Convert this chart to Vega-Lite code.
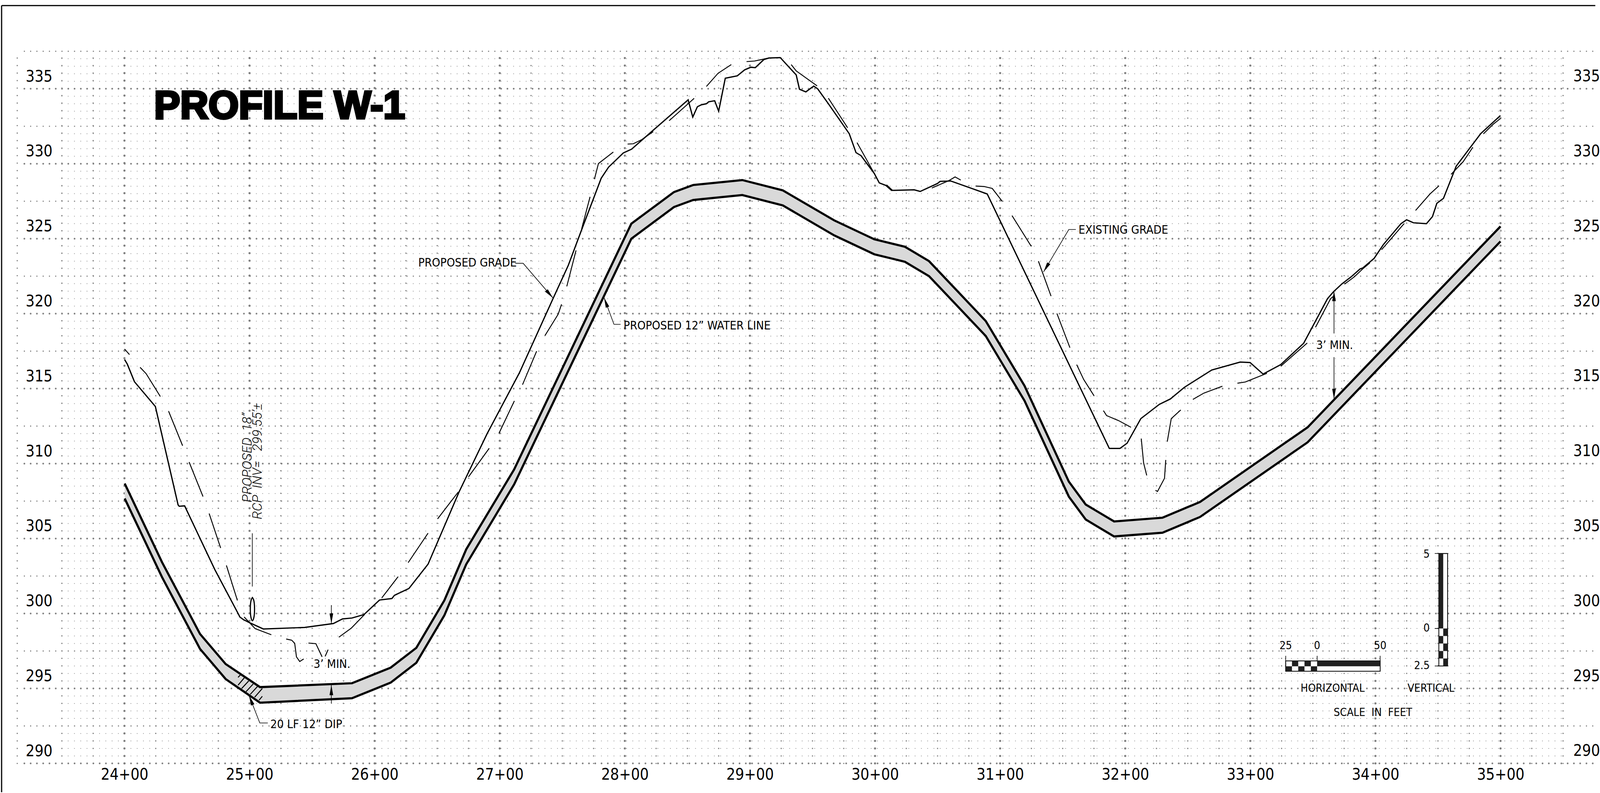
{
"$schema":"https://vega.github.io/schema/vega-lite/v6.json",
"width":4096,"height":2029,"padding":0,"autosize":{"type":"fit","contains":"padding"},"background":"white",
"config":{"view":{"stroke":null},"axis":{"grid":false,"ticks":false,"domain":false,"labelColor":"black","labelFont":"DejaVu Sans Condensed, Roboto, sans-serif","labelFontSize":40,"labelOverlap":false,"labelFlush":false,"labelBound":false}},
"datasets":{
"rowsAll":[{"e":290},{"e":290.5},{"e":291},{"e":291.5},{"e":292},{"e":292.5},{"e":293},{"e":293.5},{"e":294},{"e":294.5},{"e":295},{"e":295.5},{"e":296},{"e":296.5},{"e":297},{"e":297.5},{"e":298},{"e":298.5},{"e":299},{"e":299.5},{"e":300},{"e":300.5},{"e":301},{"e":301.5},{"e":302},{"e":302.5},{"e":303},{"e":303.5},{"e":304},{"e":304.5},{"e":305},{"e":305.5},{"e":306},{"e":306.5},{"e":307},{"e":307.5},{"e":308},{"e":308.5},{"e":309},{"e":309.5},{"e":310},{"e":310.5},{"e":311},{"e":311.5},{"e":312},{"e":312.5},{"e":313},{"e":313.5},{"e":314},{"e":314.5},{"e":315},{"e":315.5},{"e":316},{"e":316.5},{"e":317},{"e":317.5},{"e":318},{"e":318.5},{"e":319},{"e":319.5},{"e":320},{"e":320.5},{"e":321},{"e":321.5},{"e":322},{"e":322.5},{"e":323},{"e":323.5},{"e":324},{"e":324.5},{"e":325},{"e":325.5},{"e":326},{"e":326.5},{"e":327},{"e":327.5},{"e":328},{"e":328.5},{"e":329},{"e":329.5},{"e":330},{"e":330.5},{"e":331},{"e":331.5},{"e":332},{"e":332.5},{"e":333},{"e":333.5},{"e":334},{"e":334.5},{"e":335},{"e":335.5},{"e":336},{"e":336.5},{"e":337},{"e":337.5}],
"rowsMed":[{"e":292.5},{"e":297.5},{"e":302.5},{"e":307.5},{"e":312.5},{"e":317.5},{"e":322.5},{"e":327.5},{"e":332.5},{"e":337.5}],
"rowsHeavy":[{"e":290},{"e":295},{"e":300},{"e":305},{"e":310},{"e":315},{"e":320},{"e":325},{"e":330},{"e":335}],
"colsMed":[{"s":2314.3},{"s":2350},{"s":2375},{"s":2400},{"s":2425},{"s":2450},{"s":2475},{"s":2500},{"s":2525},{"s":2550},{"s":2575},{"s":2600},{"s":2625},{"s":2650},{"s":2675},{"s":2700},{"s":2725},{"s":2750},{"s":2775},{"s":2800},{"s":2825},{"s":2850},{"s":2875},{"s":2900},{"s":2925},{"s":2950},{"s":2975},{"s":3000},{"s":3025},{"s":3050},{"s":3075},{"s":3100},{"s":3125},{"s":3150},{"s":3175},{"s":3200},{"s":3225},{"s":3250},{"s":3275},{"s":3300},{"s":3325},{"s":3350},{"s":3375},{"s":3400},{"s":3425},{"s":3450},{"s":3475},{"s":3500},{"s":3525},{"s":3550}],
"colsHeavy":[{"s":2400},{"s":2500},{"s":2600},{"s":2700},{"s":2800},{"s":2900},{"s":3000},{"s":3100},{"s":3200},{"s":3300},{"s":3400},{"s":3500}],
"pipe":[{"s":2400.2,"top":308.67,"bot":307.67},{"s":2430,"top":303.43,"bot":302.43},{"s":2460.4,"top":298.64,"bot":297.64},{"s":2480.9,"top":296.63,"bot":295.63},{"s":2508.4,"top":295.09,"bot":294.05},{"s":2581.9,"top":295.35,"bot":294.35},{"s":2612.8,"top":296.39,"bot":295.39},{"s":2633.3,"top":297.71,"bot":296.71},{"s":2655.7,"top":300.87,"bot":299.87},{"s":2673.2,"top":304.28,"bot":303.28},{"s":2711.5,"top":309.61,"bot":308.61},{"s":2805.2,"top":326.0,"bot":325.0},{"s":2839.3,"top":328.11,"bot":327.11},{"s":2854.6,"top":328.58,"bot":327.58},{"s":2893.9,"top":328.91,"bot":327.91},{"s":2926.3,"top":328.22,"bot":327.22},{"s":2967.4,"top":326.22,"bot":325.22},{"s":2999.4,"top":324.96,"bot":323.96},{"s":3023.9,"top":324.46,"bot":323.46},{"s":3043.2,"top":323.5,"bot":322.5},{"s":3088.5,"top":319.51,"bot":318.51},{"s":3119.5,"top":315.19,"bot":314.19},{"s":3154.9,"top":308.8,"bot":307.8},{"s":3168.4,"top":307.27,"bot":306.27},{"s":3191.1,"top":306.14,"bot":305.14},{"s":3229.8,"top":306.39,"bot":305.39},{"s":3259.8,"top":307.44,"bot":306.44},{"s":3345.8,"top":312.42,"bot":311.42},{"s":3500,"top":325.82,"bot":324.82}],
"grade":[{"s":2400.1,"e":316.94},{"s":2402.3,"e":316.63},{"s":2408,"e":315.46},{"s":2424.7,"e":313.81},{"s":2442.9,"e":307.24},{"s":2443.8,"e":307.15},{"s":2448.1,"e":307.18},{"s":2472.3,"e":302.92},{"s":2491.5,"e":299.9},{"s":2492.2,"e":299.77},{"s":2495,"e":299.6},{"s":2500.2,"e":299.38},{"s":2511,"e":298.97},{"s":2544.1,"e":299.07},{"s":2567,"e":299.33},{"s":2574.3,"e":299.64},{"s":2581.9,"e":299.7},{"s":2591.5,"e":299.93},{"s":2603.9,"e":300.9},{"s":2613.8,"e":301.0},{"s":2615.8,"e":301.21},{"s":2627.4,"e":301.67},{"s":2642.7,"e":303.29},{"s":2667.6,"e":308.13},{"s":2689.9,"e":311.99},{"s":2715.7,"e":316.05},{"s":2742.8,"e":321.04},{"s":2754.7,"e":323.2},{"s":2765.5,"e":325.6},{"s":2781.1,"e":329.03},{"s":2787,"e":329.77},{"s":2798.8,"e":330.72},{"s":2805.4,"e":330.97},{"s":2821.4,"e":332.14},{"s":2850.6,"e":334.26},{"s":2854.3,"e":333.11},{"s":2858,"e":333.8},{"s":2861.2,"e":333.93},{"s":2865.2,"e":334.0},{"s":2867,"e":334.13},{"s":2871.8,"e":334.2},{"s":2875,"e":333.5},{"s":2880.3,"e":335.7},{"s":2889.9,"e":335.86},{"s":2895.8,"e":336.26},{"s":2900.5,"e":336.43},{"s":2904.3,"e":336.41},{"s":2911.2,"e":336.95},{"s":2915.2,"e":337.05},{"s":2924.2,"e":337.08},{"s":2937,"e":335.92},{"s":2939.6,"e":334.97},{"s":2944.7,"e":334.79},{"s":2951,"e":335.18},{"s":2954.2,"e":334.99},{"s":2962.2,"e":334.06},{"s":2979.4,"e":332.0},{"s":2984.8,"e":330.74},{"s":2988.8,"e":330.54},{"s":2999.4,"e":329.35},{"s":3003.4,"e":328.72},{"s":3008.7,"e":328.55},{"s":3013.2,"e":328.22},{"s":3031.3,"e":328.26},{"s":3036.1,"e":328.15},{"s":3049.9,"e":328.68},{"s":3052,"e":328.82},{"s":3060.5,"e":328.85},{"s":3081.8,"e":328.22},{"s":3089.7,"e":327.98},{"s":3187.3,"e":311.01},{"s":3195.8,"e":311.01},{"s":3201.5,"e":311.36},{"s":3212.5,"e":313.0},{"s":3227.3,"e":313.95},{"s":3236.1,"e":314.31},{"s":3247.2,"e":315.08},{"s":3269.2,"e":316.24},{"s":3291.9,"e":316.77},{"s":3299.8,"e":316.74},{"s":3310.2,"e":315.97},{"s":3324.3,"e":316.6},{"s":3342.6,"e":318.02},{"s":3361.7,"e":321.0},{"s":3366.6,"e":321.47},{"s":3373.3,"e":321.99},{"s":3380.7,"e":322.46},{"s":3387.7,"e":322.98},{"s":3389.8,"e":323.04},{"s":3398.9,"e":323.68},{"s":3406.4,"e":324.61},{"s":3420.4,"e":326.0},{"s":3424.9,"e":326.26},{"s":3430.4,"e":326.06},{"s":3440.8,"e":326.0},{"s":3445.6,"e":326.47},{"s":3449.1,"e":327.36},{"s":3454.4,"e":327.69},{"s":3464.6,"e":329.84},{"s":3484.2,"e":332.01},{"s":3499.9,"e":333.21}],
"existing":[
{"g":"A","s":2400.1,"e":317.64},{"g":"A","s":2404,"e":317.27},
{"g":"B","s":2412.5,"e":316.42},{"g":"B","s":2417.3,"e":316.0},{"g":"B","s":2428.7,"e":314.47},
{"g":"C","s":2435.3,"e":313.49},{"g":"C","s":2446.5,"e":311.19},
{"g":"D","s":2451.7,"e":310.1},{"g":"D","s":2462.8,"e":307.8},
{"g":"E","s":2467.7,"e":306.67},{"g":"E","s":2476.9,"e":304.37},
{"g":"F","s":2481.5,"e":303.21},{"g":"F","s":2490.3,"e":300.87},
{"g":"G","s":2495.7,"e":299.77},{"g":"G","s":2504.5,"e":298.99},{"g":"G","s":2517.4,"e":298.58},
{"g":"H","s":2529.3,"e":298.3},{"g":"H","s":2533.7,"e":298.22},{"g":"H","s":2536.1,"e":298.01},{"g":"H","s":2537.5,"e":297.11},{"g":"H","s":2540.1,"e":296.8},{"g":"H","s":2543.3,"e":296.97},
{"g":"I","s":2547.1,"e":298.03},{"g":"I","s":2553,"e":297.99},{"g":"I","s":2558,"e":297.11},
{"g":"J","s":2560.4,"e":297.14},{"g":"J","s":2562.8,"e":297.59},
{"g":"K","s":2571.4,"e":298.42},{"g":"K","s":2581.3,"e":299.02},{"g":"K","s":2591.9,"e":299.93},
{"g":"L","s":2605.7,"e":301.04},{"g":"L","s":2618.8,"e":302.46},
{"g":"M","s":2626.8,"e":303.39},{"g":"M","s":2642.7,"e":305.36},
{"g":"N","s":2650.3,"e":306.31},{"g":"N","s":2666.9,"e":308.11},
{"g":"O","s":2675,"e":309.11},{"g":"O","s":2691.6,"e":311.02},
{"g":"P","s":2699.4,"e":312.02},{"g":"P","s":2711.7,"e":314.18},
{"g":"Q","s":2718.2,"e":315.26},{"g":"Q","s":2729.5,"e":317.5},
{"g":"R","s":2736.1,"e":318.53},{"g":"R","s":2746.7,"e":319.96},{"g":"R","s":2749.4,"e":320.62},
{"g":"S","s":2753.6,"e":321.82},{"g":"S","s":2761,"e":324.22},
{"g":"T","s":2765.5,"e":325.66},{"g":"T","s":2772.2,"e":327.79},
{"g":"U","s":2775.7,"e":328.97},{"g":"U","s":2778.9,"e":330.01},{"g":"U","s":2790.8,"e":330.78},
{"g":"V","s":2802.2,"e":331.31},{"g":"V","s":2806.7,"e":331.33},{"g":"V","s":2813.4,"e":331.6},{"g":"V","s":2822.7,"e":332.14},
{"g":"W","s":2835.4,"e":332.87},{"g":"W","s":2842.6,"e":333.4},{"g":"W","s":2855.4,"e":334.36},
{"g":"X","s":2865.2,"e":335.15},{"g":"X","s":2874.5,"e":336.03},{"g":"X","s":2885.1,"e":336.61},
{"g":"Y","s":2897.3,"e":336.81},{"g":"Y","s":2903.7,"e":336.85},{"g":"Y","s":2911.7,"e":336.99},{"g":"Y","s":2915.2,"e":337.05},
{"g":"Z","s":2933,"e":336.61},{"g":"Z","s":2937,"e":336.19},{"g":"Z","s":2953.7,"e":335.19},
{"g":"AA","s":2962.7,"e":334.37},{"g":"AA","s":2978.1,"e":332.4},
{"g":"AB","s":2985.6,"e":331.41},{"g":"AB","s":2999.9,"e":329.28},
{"g":"AC","s":3009.2,"e":328.59},{"g":"AC","s":3014,"e":328.22},
{"g":"AD","s":3045.4,"e":328.38},{"g":"AD","s":3059.2,"e":328.88},{"g":"AD","s":3064,"e":329.12},{"g":"AD","s":3068.5,"e":328.91},
{"g":"AE","s":3080.4,"e":328.51},{"g":"AE","s":3087.1,"e":328.48},{"g":"AE","s":3093.7,"e":328.35},{"g":"AE","s":3101.7,"e":327.49},
{"g":"AG","s":3109.5,"e":326.54},{"g":"AG","s":3124.9,"e":324.49},
{"g":"AH","s":3130.6,"e":323.5},{"g":"AH","s":3140.7,"e":321.17},
{"g":"AI","s":3145.4,"e":320.01},{"g":"AI","s":3155.8,"e":317.73},
{"g":"AJ","s":3161.2,"e":316.6},{"g":"AJ","s":3166.8,"e":315.61},{"g":"AJ","s":3175,"e":314.53},
{"g":"AK","s":3182.6,"e":313.53},{"g":"AK","s":3185.1,"e":313.2},{"g":"AK","s":3194.6,"e":312.87},{"g":"AK","s":3204.6,"e":312.42},
{"g":"AL","s":3212.8,"e":311.67},{"g":"AL","s":3214.7,"e":310.04},{"g":"AL","s":3217.2,"e":309.21},
{"g":"AM","s":3224.2,"e":308.22},{"g":"AM","s":3225.8,"e":308.14},{"g":"AM","s":3231.4,"e":309.02},{"g":"AM","s":3232.4,"e":310.24},
{"g":"AN","s":3233.6,"e":311.46},{"g":"AN","s":3236.8,"e":313.0},{"g":"AN","s":3244.4,"e":313.58},
{"g":"AO","s":3254.1,"e":314.28},{"g":"AO","s":3262.9,"e":314.7},{"g":"AO","s":3277.7,"e":315.16},
{"g":"AP","s":3289.7,"e":315.36},{"g":"AP","s":3296,"e":315.44},{"g":"AP","s":3313.3,"e":316.02},
{"g":"AQ","s":3324.3,"e":316.49},{"g":"AQ","s":3345.5,"e":318.04},
{"g":"AR","s":3352.1,"e":319.09},{"g":"AR","s":3364.2,"e":321.0},{"g":"AR","s":3366.8,"e":321.18},
{"g":"AS","s":3375.3,"e":321.97},{"g":"AS","s":3383.2,"e":322.46},{"g":"AS","s":3389.8,"e":322.98},{"g":"AS","s":3395.6,"e":323.39},
{"g":"AT","s":3404.9,"e":324.26},{"g":"AT","s":3422.9,"e":326.0},
{"g":"AU","s":3432.1,"e":326.88},{"g":"AU","s":3443.6,"e":327.98},{"g":"AU","s":3450.8,"e":328.53},
{"g":"AV","s":3460.5,"e":329.29},{"g":"AV","s":3470.1,"e":330.13},{"g":"AV","s":3477.9,"e":331.1},
{"g":"AW","s":3486.3,"e":331.99},{"g":"AW","s":3494.1,"e":332.63},{"g":"AW","s":3499.9,"e":333.01}
],
"thin":[
{"g":"pg","s":2712.4,"e":323.36},{"g":"pg","s":2718.7,"e":323.36},{"g":"pg","s":2742.6,"e":321.04},
{"g":"wl","s":2796.6,"e":319.29},{"g":"wl","s":2791.3,"e":319.29},{"g":"wl","s":2783.4,"e":321.07},
{"g":"eg","s":3160.5,"e":325.61},{"g":"eg","s":3154.9,"e":325.61},{"g":"eg","s":3134.7,"e":322.78},
{"g":"dip","s":2514.6,"e":292.7},{"g":"dip","s":2508.2,"e":292.7},{"g":"dip","s":2499.6,"e":294.54},
{"g":"u1","s":2565.4,"e":300.56},{"g":"u1","s":2565.4,"e":299.33},
{"g":"u2","s":2565.4,"e":294.0},{"g":"u2","s":2565.4,"e":295.23},
{"g":"r1","s":3366.9,"e":318.68},{"g":"r1","s":3366.9,"e":321.51},
{"g":"r2","s":3366.9,"e":317.1},{"g":"r2","s":3366.9,"e":314.31},
{"g":"rcp","s":2502.2,"e":305.35},{"g":"rcp","s":2502.2,"e":301.8},
{"g":"t1","s":3328.3,"e":296.15},{"g":"t1","s":3328.3,"e":297.18},
{"g":"t2","s":3353.4,"e":296.15},{"g":"t2","s":3353.4,"e":297.18},
{"g":"t3","s":3403.8,"e":296.15},{"g":"t3","s":3403.8,"e":297.18},
{"g":"v1","s":3447.4,"e":304},{"g":"v1","s":3457.7,"e":304},
{"g":"v2","s":3447.4,"e":299},{"g":"v2","s":3457.7,"e":299},
{"g":"v3","s":3447.4,"e":296.5},{"g":"v3","s":3457.7,"e":296.5}
],
"hatch":[
{"g":"1","s":2490.8,"e":295.74},{"g":"1","s":2492.8,"e":295.91},
{"g":"2","s":2490.8,"e":295.22},{"g":"2","s":2495.8,"e":295.71},
{"g":"3","s":2493.7,"e":295.0},{"g":"3","s":2499.3,"e":295.5},
{"g":"4","s":2497.1,"e":294.78},{"g":"4","s":2502.9,"e":295.3},
{"g":"5","s":2500.6,"e":294.61},{"g":"5","s":2506.3,"e":295.13},
{"g":"6","s":2504.1,"e":294.42},{"g":"6","s":2510.2,"e":295.0},
{"g":"7","s":2507.6,"e":294.22},{"g":"7","s":2510.2,"e":294.48}
],
"oval":[{"s":2502.3,"e":301.06},{"s":2503.2,"e":300.93},{"s":2503.8,"e":300.67},{"s":2504,"e":300.29},{"s":2503.8,"e":299.91},{"s":2503.2,"e":299.65},{"s":2502.3,"e":299.52},{"s":2501.4,"e":299.65},{"s":2500.8,"e":299.91},{"s":2500.6,"e":300.29},{"s":2500.8,"e":300.67},{"s":2501.4,"e":300.93},{"s":2502.3,"e":301.06}],
"arrows":[{"s":2742.6,"e":321.04,"dir":139},{"s":2783.4,"e":321.07,"dir":-20},{"s":3134.7,"e":322.78,"dir":211},{"s":2499.6,"e":294.54,"dir":-21},{"s":2565.4,"e":299.33,"dir":180},{"s":2565.4,"e":295.23,"dir":0},{"s":3366.9,"e":321.51,"dir":0},{"s":3366.9,"e":314.31,"dir":180}],
"frame":[{"s":2301.8,"e":288.08,"s2":2301.8,"e2":340.55},{"s":2301.8,"e":340.55,"s2":3575.78,"e2":340.55}],
"boxes":[{"s":3328.3,"s2":3403.8,"e":296.15,"e2":296.84},{"s":3450.7,"s2":3457.7,"e":296.5,"e2":304}],
"black":[{"s":3353.4,"s2":3403.8,"e":296.48,"e2":296.84},{"s":3328.3,"s2":3333.3,"e":296.15,"e2":296.48},{"s":3333.3,"s2":3338.3,"e":296.48,"e2":296.84},{"s":3338.3,"s2":3343.3,"e":296.15,"e2":296.48},{"s":3343.3,"s2":3348.4,"e":296.48,"e2":296.84},{"s":3348.4,"s2":3353.4,"e":296.15,"e2":296.48},{"s":3450.7,"s2":3454.2,"e":299,"e2":304},{"s":3454.2,"s2":3457.7,"e":298.5,"e2":299},{"s":3454.2,"s2":3457.7,"e":297.5,"e2":298},{"s":3454.2,"s2":3457.7,"e":296.5,"e2":297},{"s":3450.7,"s2":3454.2,"e":298,"e2":298.5},{"s":3450.7,"s2":3454.2,"e":297,"e2":297.5}]
},
"layer":[
{"data":{"name":"frame"},"mark":{"type":"rule","color":"black","strokeWidth":3},"encoding":{
"x":{"field":"s","type":"quantitative","scale":{"domain":[2300.5208,3575.7813],"nice":false,"zero":false},"axis":{"title":null,"orient":"bottom","offset":-45,"labelPadding":0,"labelBaseline":"middle","values":[2400,2500,2600,2700,2800,2900,3000,3100,3200,3300,3400,3500],"labelExpr":"floor(datum.value/100)+'+00'"}},
"y":{"field":"e","type":"quantitative","scale":{"domain":[288.0807,340.9193],"nice":false,"zero":false},"axis":{"title":null,"orient":"left","offset":-134,"labelPadding":0,"labelAlign":"right","labelBaseline":"middle","labelOffset":-31,"values":[290,295,300,305,310,315,320,325,330,335],"format":"d"}},
"x2":{"field":"s2"},"y2":{"field":"e2"}}},
{"data":{"name":"rowsAll"},"mark":{"type":"rule","color":"#808080","strokeWidth":2,"strokeCap":"round","strokeDash":[0.01,16.05]},"encoding":{"x":{"datum":2350},"x2":{"datum":3550},"y":{"field":"e","type":"quantitative"}}},
{"data":{"name":"colsMed"},"mark":{"type":"rule","color":"#808080","strokeWidth":3.4,"strokeCap":"round","strokeDash":[0.01,19.19]},"encoding":{"y":{"datum":290},"y2":{"datum":337.5},"x":{"field":"s","type":"quantitative"}}},
{"data":{"name":"colsHeavy"},"mark":{"type":"rule","color":"#808080","strokeWidth":5.5,"strokeCap":"round","strokeDash":[0.01,19.19]},"encoding":{"y":{"datum":290},"y2":{"datum":337.5},"x":{"field":"s","type":"quantitative"}}},
{"data":{"name":"rowsMed"},"mark":{"type":"rule","color":"#808080","strokeWidth":3.2,"strokeCap":"round","strokeDash":[0.01,16.05]},"encoding":{"x":{"datum":2320},"x2":{"datum":3575.7},"y":{"field":"e","type":"quantitative"}}},
{"data":{"name":"rowsHeavy"},"mark":{"type":"rule","color":"#808080","strokeWidth":4.5,"strokeCap":"round","strokeDash":[0.01,16.05]},"encoding":{"x":{"datum":2320},"x2":{"datum":3575.7},"y":{"field":"e","type":"quantitative"}}},
{"data":{"name":"pipe"},"mark":{"type":"area","color":"#d9d9d9","opacity":1},"encoding":{"x":{"field":"s","type":"quantitative"},"y":{"field":"top","type":"quantitative"},"y2":{"field":"bot"},"order":{"value":null}}},
{"data":{"name":"hatch"},"mark":{"type":"line","color":"black","strokeWidth":2.5},"encoding":{"x":{"field":"s","type":"quantitative"},"y":{"field":"e","type":"quantitative"},"detail":{"field":"g"},"order":{"value":null}}},
{"data":{"name":"pipe"},"mark":{"type":"line","color":"black","strokeWidth":5.5,"strokeJoin":"miter"},"encoding":{"x":{"field":"s","type":"quantitative"},"y":{"field":"top","type":"quantitative"},"order":{"value":null}}},
{"data":{"name":"pipe"},"mark":{"type":"line","color":"black","strokeWidth":5.5,"strokeJoin":"miter"},"encoding":{"x":{"field":"s","type":"quantitative"},"y":{"field":"bot","type":"quantitative"},"order":{"value":null}}},
{"data":{"name":"grade"},"mark":{"type":"line","color":"black","strokeWidth":3.2},"encoding":{"x":{"field":"s","type":"quantitative"},"y":{"field":"e","type":"quantitative"},"order":{"value":null}}},
{"data":{"name":"existing"},"mark":{"type":"line","color":"black","strokeWidth":2.4},"encoding":{"x":{"field":"s","type":"quantitative"},"y":{"field":"e","type":"quantitative"},"detail":{"field":"g"},"order":{"value":null}}},
{"data":{"name":"oval"},"mark":{"type":"line","color":"black","strokeWidth":3,"interpolate":"cardinal-closed"},"encoding":{"x":{"field":"s","type":"quantitative"},"y":{"field":"e","type":"quantitative"},"order":{"value":null}}},
{"data":{"name":"thin"},"mark":{"type":"line","color":"black","strokeWidth":1.6},"encoding":{"x":{"field":"s","type":"quantitative"},"y":{"field":"e","type":"quantitative"},"detail":{"field":"g"},"order":{"value":null}}},
{"data":{"name":"arrows"},"mark":{"type":"point","filled":true,"color":"black","opacity":1,"strokeWidth":0,"size":2704,"shape":"M0,0L0.18,1L-0.18,1Z"},"encoding":{"x":{"field":"s","type":"quantitative"},"y":{"field":"e","type":"quantitative"},"angle":{"field":"dir","type":"quantitative","scale":null}}},
{"data":{"name":"boxes"},"mark":{"type":"rect","fill":"white","stroke":"black","strokeWidth":2},"encoding":{"x":{"field":"s","type":"quantitative"},"y":{"field":"e","type":"quantitative"},"x2":{"field":"s2"},"y2":{"field":"e2"}}},
{"data":{"name":"black"},"mark":{"type":"rect","fill":"#1f1f1f"},"encoding":{"x":{"field":"s","type":"quantitative"},"y":{"field":"e","type":"quantitative"},"x2":{"field":"s2"},"y2":{"field":"e2"}}},
{"data":{"values":[{"s":2423.7,"e":333.03,"t":"PROFILE W-1"}]},"mark":{"type":"text","align":"left","baseline":"alphabetic","font":"Liberation Sans","fontWeight":"bold","fontSize":100,"color":"black","stroke":"black","strokeWidth":6},"encoding":{"x":{"field":"s","type":"quantitative"},"y":{"field":"e","type":"quantitative"},"text":{"field":"t"}}},
{"data":{"values":[{"s":2634.9,"e":323.37,"t":"PROPOSED GRADE"},{"s":2799,"e":319.18,"t":"PROPOSED 12” WATER LINE"},{"s":3162.7,"e":325.57,"t":"EXISTING GRADE"},{"s":2551.2,"e":296.6,"t":"3’ MIN."},{"s":3352.7,"e":317.88,"t":"3’ MIN."},{"s":2516.6,"e":292.58,"t":"20 LF 12” DIP"}]},"mark":{"type":"text","align":"left","baseline":"middle","font":"DejaVu Sans Condensed, Roboto, sans-serif","fontSize":30,"color":"black"},"encoding":{"x":{"field":"s","type":"quantitative"},"y":{"field":"e","type":"quantitative"},"text":{"field":"t"}}},
{"data":{"values":[{"s":3328.3,"e":297.82,"t":"25"},{"s":3353.4,"e":297.82,"t":"0"},{"s":3403.8,"e":297.82,"t":"50"},{"s":3365.8,"e":294.98,"t":"HORIZONTAL"},{"s":3444.4,"e":294.98,"t":"VERTICAL"},{"s":3398,"e":293.37,"t":"SCALE\u00a0 IN\u00a0 FEET"}]},"mark":{"type":"text","align":"center","baseline":"middle","font":"DejaVu Sans Condensed, Roboto, sans-serif","fontSize":28,"color":"black"},"encoding":{"x":{"field":"s","type":"quantitative"},"y":{"field":"e","type":"quantitative"},"text":{"field":"t"}}},
{"data":{"values":[{"s":3443.4,"e":303.94,"t":"5"},{"s":3443.4,"e":299,"t":"0"},{"s":3443.4,"e":296.5,"t":"2.5"}]},"mark":{"type":"text","align":"right","baseline":"middle","font":"DejaVu Sans Condensed, Roboto, sans-serif","fontSize":28,"color":"black"},"encoding":{"x":{"field":"s","type":"quantitative"},"y":{"field":"e","type":"quantitative"},"text":{"field":"t"}}},
{"data":{"values":[{"s":2498.4,"e":307.41,"t":"PROPOSED\u00a0 18”"},{"s":2506.7,"e":306.28,"t":"RCP\u00a0 INV=\u00a0\u00a0 299.55’±"}]},"mark":{"type":"text","align":"left","baseline":"middle","font":"Roboto","fontWeight":300,"fontStyle":"italic","fontSize":34,"angle":270,"color":"black"},"encoding":{"x":{"field":"s","type":"quantitative"},"y":{"field":"e","type":"quantitative"},"text":{"field":"t"}}},
{"data":{"values":[{"s":3558.1,"e":290},{"s":3558.1,"e":295},{"s":3558.1,"e":300},{"s":3558.1,"e":305},{"s":3558.1,"e":310},{"s":3558.1,"e":315},{"s":3558.1,"e":320},{"s":3558.1,"e":325},{"s":3558.1,"e":330},{"s":3558.1,"e":335}]},"mark":{"type":"text","align":"left","baseline":"middle","dy":-31,"font":"DejaVu Sans Condensed, Roboto, sans-serif","fontSize":40,"color":"black"},"encoding":{"x":{"field":"s","type":"quantitative"},"y":{"field":"e","type":"quantitative"},"text":{"field":"e","type":"quantitative","format":"d"}}}
]
}
